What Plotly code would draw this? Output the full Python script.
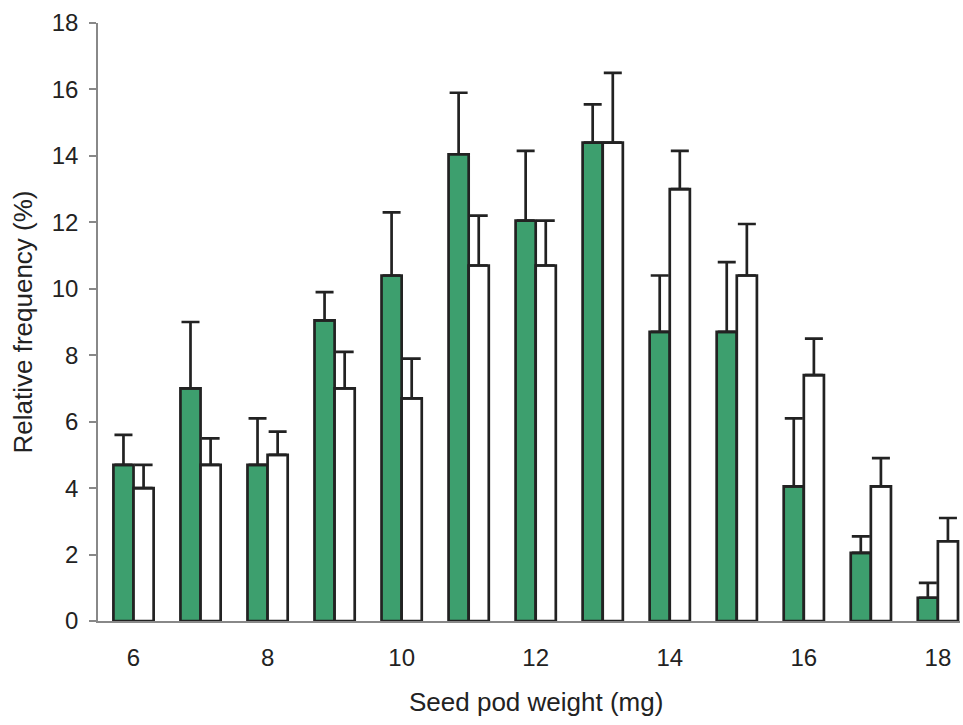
import plotly.graph_objects as go

weights = [6, 7, 8, 9, 10, 11, 12, 13, 14, 15, 16, 17, 18]
green_vals = [4.7, 7.0, 4.7, 9.05, 10.4, 14.05, 12.05, 14.4, 8.7, 8.7, 4.05, 2.05, 0.7]
green_err = [0.9, 2.0, 1.4, 0.85, 1.9, 1.85, 2.1, 1.15, 1.7, 2.1, 2.05, 0.5, 0.45]
white_vals = [4.0, 4.7, 5.0, 7.0, 6.7, 10.7, 10.7, 14.4, 13.0, 10.4, 7.4, 4.05, 2.4]
white_err = [0.7, 0.8, 0.7, 1.1, 1.2, 1.5, 1.35, 2.1, 1.15, 1.55, 1.1, 0.85, 0.7]
x_ticks = [6, 8, 10, 12, 14, 16, 18]
y_ticks = [0, 2, 4, 6, 8, 10, 12, 14, 16, 18]

DARK = "#222222"
FONT = "Liberation Sans, Arial, sans-serif"

def err(vals):
    return dict(type="data", array=vals, arrayminus=[0] * len(vals),
                symmetric=False, color=DARK, thickness=2.7, width=9)

fig = go.Figure()
fig.add_trace(go.Bar(x=weights, y=green_vals, error_y=err(green_err),
                     marker=dict(color="#3d9f6e", line=dict(color=DARK, width=2.7)),
                     showlegend=False))
fig.add_trace(go.Bar(x=weights, y=white_vals, error_y=err(white_err),
                     marker=dict(color="#ffffff", line=dict(color=DARK, width=2.7)),
                     showlegend=False))

fig.update_layout(
    width=963, height=725,
    margin=dict(l=98, r=3, t=23, b=104),
    paper_bgcolor="white", plot_bgcolor="white",
    barmode="group", bargap=0.4, bargroupgap=0,
    font=dict(family=FONT, color=DARK),
    xaxis=dict(range=[5.47, 18.33], tickvals=x_ticks, showgrid=False, zeroline=False,
               showline=True, linecolor="#888888", linewidth=1.5, ticks="",
               tickfont=dict(size=24), ticklabelstandoff=14),
    yaxis=dict(range=[0, 18], tickvals=y_ticks, showgrid=False, zeroline=False,
               showline=True, linecolor="#888888", linewidth=1.5, ticks="outside",
               ticklen=7, tickcolor="#888888", tickwidth=1.5,
               tickfont=dict(size=24), ticklabelstandoff=6,
               title=dict(text="Relative frequency (%)", font=dict(size=26), standoff=12)),
    annotations=[dict(text="Seed pod weight (mg)", xref="paper", yref="paper",
                      x=(535.5 - 98) / (963 - 98 - 3), y=-(702 - 621) / (725 - 23 - 104),
                      xanchor="center", yanchor="middle", showarrow=False,
                      font=dict(size=26, family=FONT, color=DARK))],
)

fig.write_html("out.html")
